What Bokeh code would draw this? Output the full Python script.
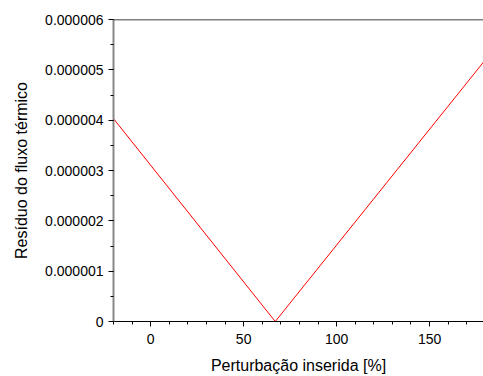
from bokeh.plotting import figure
from bokeh.models import Range1d, Span, CustomJSTickFormatter, FixedTicker
from bokeh.embed import file_html
from bokeh.resources import INLINE

perturbacao = [-20, 67, 180]
residuo = [4.03e-6, 0.0, 5.2e-6]
x_ticks = [0, 50, 100, 150]
y_ticks = [0, 1e-6, 2e-6, 3e-6, 4e-6, 5e-6, 6e-6]

p = figure(width=483, height=376, output_backend="svg", toolbar_location=None,
           x_range=Range1d(-20, 179), y_range=Range1d(0, 6e-6),
           min_border_left=113, min_border_right=0, min_border_top=19, min_border_bottom=55)
p.line(perturbacao, residuo, line_color="red", line_width=1)

p.grid.visible = False
p.outline_line_color = None
p.background_fill_color = "white"
p.border_fill_color = "white"

p.add_layout(Span(location=6e-6, dimension="width", line_color="black", line_width=1.5))

font = "Liberation Sans"
p.xaxis.ticker = FixedTicker(ticks=x_ticks, minor_ticks=list(range(-20, 181, 10)))
p.yaxis.ticker = FixedTicker(ticks=y_ticks, minor_ticks=[i * 0.5e-6 for i in range(13)])
p.yaxis.formatter = CustomJSTickFormatter(code="return tick == 0 ? '0' : tick.toFixed(6);")

for ax in (p.xaxis[0], p.yaxis[0]):
    ax.major_label_text_font = font
    ax.major_label_text_font_size = "14px"
    ax.major_label_text_color = "black"
    ax.axis_label_text_font = font
    ax.axis_label_text_font_size = "16px"
    ax.axis_label_text_font_style = "normal"
    ax.axis_label_text_color = "black"
    ax.major_tick_line_color = "black"
    ax.minor_tick_line_color = "black"
    ax.major_tick_out = 5
    ax.major_tick_in = 0
    ax.minor_tick_out = 3
    ax.minor_tick_in = 0

p.xaxis.axis_label = "Perturbação inserida [%]"
p.yaxis.axis_label = "Resíduo do fluxo térmico"
p.xaxis.axis_line_color = "black"
p.yaxis.axis_line_color = "#888888"
p.yaxis.axis_line_width = 2
p.xaxis.major_label_standoff = 7
p.yaxis.major_label_standoff = 5
p.xaxis.axis_label_standoff = 10
p.yaxis.axis_label_standoff = 12

open("out.html", "w").write(file_html(p, INLINE))
